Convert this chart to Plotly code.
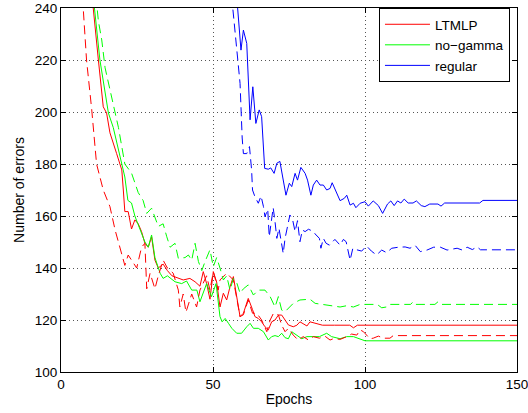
import plotly.graph_objects as go

# ---- data ----
ltmlp_solid_x = [0, 8, 10, 10.6, 12.3, 13.9, 15, 16.1, 18.3, 20, 20.5, 21, 22.1, 23.2, 24.3, 25.4, 26.5, 27.6, 28.7, 29.8,
                 30.9, 32, 33.6, 35, 36.5, 38.6, 40.2, 42.4, 44.1, 45.7, 46.8, 47.9, 49, 50.1, 51.2, 52.3, 53.4, 54.5, 55.6,
                 56.7, 57.9, 58.9, 60, 61.6, 63, 63.8, 64.9, 66, 67.1, 68.2, 69.3, 70.4, 71.5, 72.6, 73.7, 74.8, 76.4, 77.6,
                 78.6, 80.9, 81.9, 83.6, 86, 90, 95, 96.2, 97.5, 150]
ltmlp_solid_y = [400, 280, 248, 240, 220, 202, 199.6, 192, 184, 177.7, 170, 161.7, 161.7, 155, 158.5, 157, 154, 149.5, 148, 152,
                 143, 140, 141.5, 139, 137, 136, 135.4, 136, 134.7, 133, 138.6, 134, 128, 138.6, 134.6, 125, 130.3, 127.7, 132.8,
                 136.7, 127.7, 121.3, 122.6, 128.3, 124, 121.3, 120.6, 119.3, 117.4, 116.2, 119.3, 120, 121.9, 121.9, 120, 118.1, 117.4, 118,
                 119.3, 117.7, 119.3, 118.7, 118, 118, 118, 117, 118, 118]

ltmlp_dash_x = [0, 5, 7.3, 8.4, 10.1, 11.7, 13.9, 16.1, 17.8, 19.4, 21, 22.1, 23.2, 24.9, 26.5, 27.6, 28.2, 29.3, 30.9, 32,
                33.6, 35, 36.9, 38.6, 39.1, 40.2, 41.1, 43, 44.6, 45.7, 47.9, 49, 50.1, 51.7, 52.3, 54.5, 56.7, 57.8, 58.9, 60,
                61.6, 63, 64.4, 66, 67.7, 68.8, 69.9, 71.5, 72.6, 73.7, 74.8, 76.4, 78, 79.7, 81.4, 83, 85, 86.8, 88.5, 90,
                91.7, 94, 95.6, 97.3, 98.4, 99.5, 100.5, 101.6, 102.7, 104.4, 106, 108.2, 109.3, 150]
ltmlp_dash_y = [400, 275, 240, 220, 201, 180, 170, 163.6, 154.6, 148.2, 141, 145, 143, 140, 148, 149.5, 132, 138, 132, 137,
                143, 140, 138, 131.5, 125, 130, 123, 130, 125, 131.5, 137, 131.5, 138.6, 131.5, 135.4, 138, 135.4, 129, 121.3, 122,
                127.7, 122.6, 122.6, 120, 115.5, 120, 122.6, 122, 118, 115.5, 116.8, 114.2, 112.3, 113.6, 112.3, 113.6, 113, 113.8, 112.3, 113,
                112.5, 113.6, 114.6, 114.2, 116.2, 115.5, 114.2, 112.8, 113, 113.8, 113, 113, 114, 114]

nog_solid_x = [0, 9, 11, 12.8, 15.6, 17.2, 19.4, 21, 22, 23.2, 24.3, 26, 27.6, 28.7, 29.8, 30.9, 32.6, 33.6, 35, 37.5,
               39.7, 41.3, 43, 44.7, 45.7, 47.9, 49.5, 51, 52.3, 53, 54, 55.1, 56.2, 57.8, 59.4, 61.1, 62.2, 63.3, 64.9, 66.6,
               68.2, 69.3, 70.4, 71.5, 72.6, 73.7, 74.8, 75.9, 77.6, 79.2, 80.9, 85, 87.4, 89, 91.8, 94, 96.2, 98.4, 100, 150]
nog_solid_y = [400, 270, 240, 220, 199.6, 194, 182.8, 175, 166, 165, 160, 154.6, 150, 148, 152.7, 144, 138, 136, 137, 134.7,
               134, 135, 131.5, 131.5, 127, 134, 129, 134, 121.3, 119.3, 120.6, 118.7, 116.8, 114.9, 114.9, 117.4, 118.7, 116.8, 116.8, 115.5,
               112.3, 113.6, 114, 113.6, 114.9, 113.2, 112.8, 115.5, 114, 112.8, 113.6, 113.6, 114.9, 113.6, 112.8, 113.6, 113.6, 112.8, 112, 112]

nog_dash_x = [0, 10, 12.3, 13.4, 14.5, 17.8, 18.9, 21, 23.2, 25.4, 27, 28.2, 29.8, 32, 33.6, 34.8, 35.9, 37.5, 38.6, 40.8,
              41.9, 43, 44.1, 45.2, 46.3, 47.4, 49, 50.1, 51.2, 52.3, 53.4, 54.5, 55.6, 56.7, 57.9, 58.9, 60, 61.6, 63.3, 64.9,
              67.1, 68.8, 70.4, 71.5, 72.6, 73.7, 76.4, 78.6, 81.9, 83.6, 87.4, 91.8, 94, 96.2, 98.4, 104, 105.5, 107, 108, 115,
              115.8, 116.5, 123, 124, 125, 150]
nog_dash_y = [400, 262, 235, 227.7, 217, 199.6, 194, 180, 176.5, 169, 166, 161, 163, 156, 157, 152, 148, 149.5, 143.7, 144,
              145, 143, 149.5, 142.5, 139, 142.5, 147, 140.5, 144, 140, 135.4, 137, 131.5, 136, 134, 130.3, 132, 133.5, 129.6, 131.5,
              131.5, 129, 125, 129, 123.8, 123.2, 126.4, 127.7, 128, 126.4, 125.8, 125, 125.5, 125, 126, 126, 124.7, 125, 126, 126,
              127, 126, 126, 127, 126, 126]

reg_solid_x = [0, 55, 58.1, 58.9, 59.2, 60, 61.1, 62.2, 63.1, 64.1, 65.2, 66, 67, 68.2, 69, 70.1, 71, 72, 73.1, 74,
               75.1, 75.9, 77, 77.8, 78.9, 80.3, 81.1, 82.2, 83, 84.1, 85.2, 86.3, 87.4, 88.5, 89.2, 90.1, 91.8, 93.2, 94, 95.1,
               96.2, 97, 98.4, 100, 101.1, 102.7, 104.4, 105.8, 107.4, 108.5, 109.6, 110.7, 111.8, 112.9, 114.2, 115.8, 116.9, 118.5, 119.7, 121.3,
               124, 125, 126.2, 137.7, 138.8, 150]
reg_solid_y = [500, 270, 240, 226.4, 223.8, 231.5, 226.4, 197, 209.7, 195.6, 200.8, 198.2, 178.3, 178, 178.5, 176.4, 180.3, 181, 173.8, 168,
               172.6, 171.3, 176.4, 173.8, 178.7, 176.4, 173.8, 168, 171.9, 173.8, 171.9, 171.9, 170, 170.6, 172.8, 170.6, 165.9, 166.8, 168, 164.2,
               164.9, 163.2, 164.9, 165.5, 163.8, 165.8, 164, 161, 164.6, 165.8, 164, 165.8, 165, 166.5, 165, 165, 165.8, 164, 163.6, 164.6,
               164.6, 163.8, 165, 165, 166, 166]

reg_dash_x = [0, 55, 56.5, 57.8, 58.9, 59.6, 60, 61.1, 62, 62.7, 63, 63.8, 64.9, 65.8, 66.6, 67.1, 68, 68.5, 69.3, 69.8,
              70.4, 71, 71.7, 72.4, 73.1, 73.7, 74.6, 75.3, 76.2, 77, 77.8, 78.6, 79.4, 80.3, 81.4, 83.1, 83.6, 85, 85.5, 86.3,
              87.2, 88.3, 90.1, 91.8, 92.9, 93.8, 95.1, 96, 97.3, 98.9, 100.5, 102.1, 103.8, 105.5, 107.1, 108.8, 111, 113.2, 114.8, 116.5,
              118.2, 120.4, 122.6, 124.8, 127, 128.6, 130.3, 132, 133.6, 135.3, 136.9, 138, 150]
reg_dash_y = [500, 262, 240, 223.8, 211, 190, 184, 184, 186.7, 177.7, 170, 167.4, 164.9, 167.7, 163.6, 159.7, 162.6, 152, 159, 163.2,
              157.8, 151.4, 155.3, 150.8, 145.6, 151.4, 156.5, 160.4, 158.5, 154, 158.2, 150.1, 154.6, 154, 154.9, 154, 153.1, 151.4, 147.6, 151.4,
              149.5, 148.8, 151, 148.8, 151, 150.1, 143, 147.6, 147, 146.5, 148.5, 146.5, 145, 146.9, 145.9, 147.6, 148, 148.1, 147.6, 148.7,
              146.3, 146.9, 148, 148, 146.9, 147.1, 147.6, 146.9, 148, 147.1, 148.1, 147, 147]

x_ticks = [0, 50, 100, 150]
y_ticks = [100, 120, 140, 160, 180, 200, 220, 240]

FONT = "Liberation Sans, Arial, Helvetica, sans-serif"
RED, GREEN, BLUE = "#ff0000", "#00ff00", "#0000ff"
DASH = "9px,5px"

fig = go.Figure()
series = [
    (ltmlp_solid_x, ltmlp_solid_y, RED, "solid", "LTMLP", True),
    (nog_solid_x, nog_solid_y, GREEN, "solid", "no−gamma", True),
    (reg_solid_x, reg_solid_y, BLUE, "solid", "regular", True),
    (ltmlp_dash_x, ltmlp_dash_y, RED, DASH, "LTMLP", False),
    (nog_dash_x, nog_dash_y, GREEN, DASH, "no−gamma", False),
    (reg_dash_x, reg_dash_y, BLUE, DASH, "regular", False),
]
for xs, ys, col, dash, name, show in series:
    fig.add_trace(go.Scatter(x=xs, y=ys, mode="lines", name=name, showlegend=show,
                             line=dict(color=col, width=1, dash=dash)))

axis_common = dict(showline=True, linecolor="black", linewidth=1, mirror="ticks",
                   ticks="inside", ticklen=5, tickcolor="black", automargin=False,
                   ticklabeloverflow="allow",
                   showgrid=True, gridcolor="#555555", griddash="1px,3px", gridwidth=1,
                   zeroline=False, tickfont=dict(family=FONT, size=13.5, color="black"))

fig.update_layout(
    width=528, height=413,
    margin=dict(l=61, r=11, t=8, b=41, autoexpand=False),
    paper_bgcolor="white", plot_bgcolor="white",
    font=dict(family=FONT, size=14, color="black"),
    xaxis=dict(range=[0, 150], tickvals=x_ticks, **axis_common,
               title=dict(text="Epochs", font=dict(family=FONT, size=14), standoff=2)),
    yaxis=dict(range=[100, 240], tickvals=y_ticks, **axis_common,
               title=dict(text="Number of errors", font=dict(family=FONT, size=14), standoff=6)),
    legend=dict(x=0.9846, y=1.0, xanchor="right", yanchor="top",
                bgcolor="white", bordercolor="black", borderwidth=1,
                font=dict(family=FONT, size=13.5, color="black"),
                tracegroupgap=0, itemwidth=45),
)

fig.write_html("out.html", config={"displayModeBar": False},
               post_script="document.body.style.margin='0';document.body.style.overflow='hidden';")
